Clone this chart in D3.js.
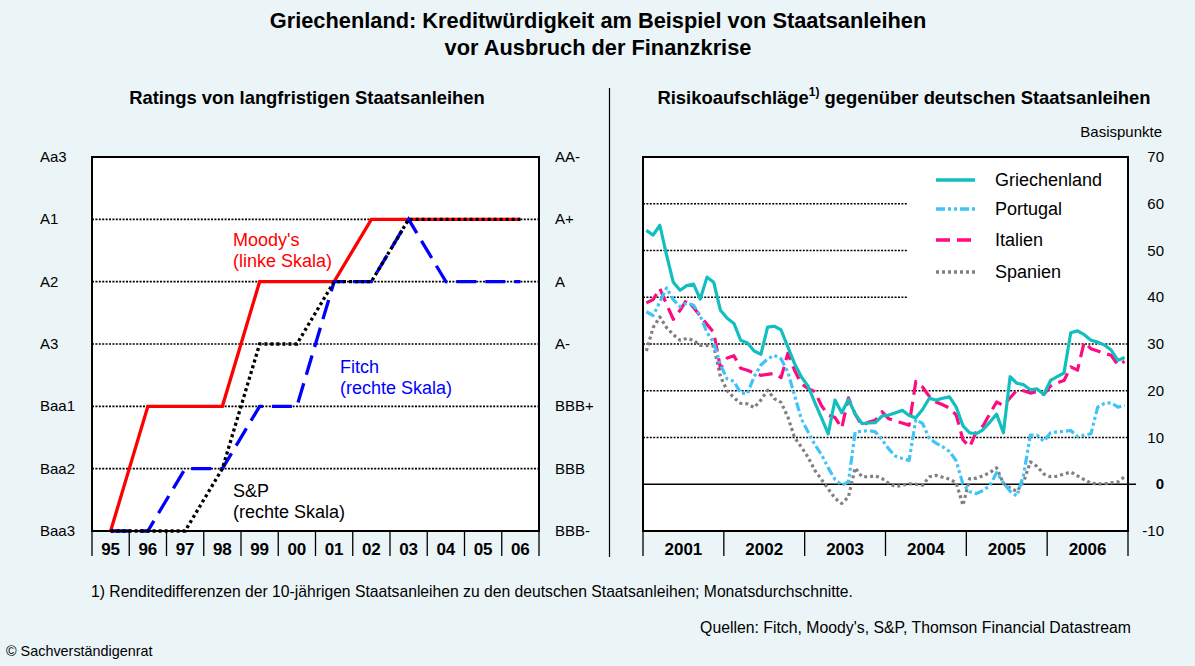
<!DOCTYPE html>
<html><head><meta charset="utf-8">
<script src="https://cdn.jsdelivr.net/npm/d3@7"></script>
<style>
body{margin:0;background:#ebf4f7;}
svg{display:block;font-family:"Liberation Sans",Arial,sans-serif;}
</style>
</head><body>
<svg id="c" width="1195" height="666"></svg>
<script>
// ---------- DATA ----------
const titleLines = ["Griechenland: Kreditwürdigkeit am Beispiel von Staatsanleihen", "vor Ausbruch der Finanzkrise"];
const leftTitle = "Ratings von langfristigen Staatsanleihen";
const years = ["95","96","97","98","99","00","01","02","03","04","05","06"];
const leftLabels = ["Baa3","Baa2","Baa1","A3","A2","A1","Aa3"];
const rightLabels = ["BBB-","BBB","BBB+","A-","A","A+","AA-"];
const moodys = ["Baa3","Baa1","Baa1","Baa1","A2","A2","A2","A1","A1","A1","A1","A1"];
const fitch = ["BBB-","BBB-","BBB","BBB","BBB+","BBB+","A","A","A+","A","A","A"];
const sp = ["BBB-","BBB-","BBB-","BBB","A-","A-","A","A","A+","A+","A+","A+"];

const spreadYears = ["2001","2002","2003","2004","2005","2006"];
const spreadTicks = [70,60,50,40,30,20,10,0,-10];
const seriesNames = ["Griechenland","Portugal","Italien","Spanien"];
const greece = [54.3,53.3,55.4,49.0,43.2,41.5,42.5,42.8,39.6,44.3,43.2,37.2,
 35.5,34.4,30.8,30.2,28.5,27.8,33.6,33.8,33.0,29.4,25.8,23.0,
 21.0,17.5,14.2,10.8,18.0,15.3,18.2,15.0,13.0,13.1,13.2,14.6,
 14.8,15.3,15.8,14.7,14.2,16.0,18.4,18.0,18.4,18.7,16.5,12.5,
 11.0,10.8,11.7,13.3,15.0,11.0,23.0,21.6,21.3,20.2,20.4,19.2,
 22.2,23.0,23.8,32.4,32.8,32.0,30.8,30.4,29.8,28.7,26.5,27.1];
const portugal = [36.9,36.1,39.0,42.0,39.5,38.0,38.8,38.3,36.0,32.5,30.3,25.5,
 22.5,22.0,19.5,19.4,23.0,25.5,26.8,27.6,26.8,24.0,19.0,14.0,
 11.2,8.5,6.3,3.5,1.0,-0.2,0.5,11.2,11.3,11.5,11.2,9.5,
 7.5,6.0,5.5,5.1,13.8,13.0,9.8,8.8,8.0,7.0,5.0,0.0,
 -1.6,-2.0,-1.3,-0.3,2.5,0.3,-1.5,-2.5,2.0,10.5,10.5,9.2,
 11.0,11.2,11.3,11.5,10.2,10.5,10.8,16.5,17.3,17.4,16.5,16.9];
const italy = [38.8,39.5,41.9,38.5,35.3,37.2,39.5,37.8,36.0,34.2,32.5,24.8,
 27.0,27.5,24.8,24.4,23.8,23.3,23.5,23.7,22.8,28.0,24.4,21.5,
 20.5,19.8,16.8,14.8,14.3,12.0,18.5,15.0,12.6,13.3,13.7,15.5,
 14.0,13.5,13.1,12.6,22.0,20.8,18.8,17.6,17.0,16.3,14.8,9.5,
 8.0,11.3,12.5,15.1,17.6,16.8,18.5,20.1,20.0,19.5,19.8,19.2,
 21.0,21.7,22.2,25.1,24.4,30.4,29.0,28.5,28.0,27.6,25.5,26.3];
const spain = [28.5,33.5,35.8,33.5,32.0,30.8,31.2,30.8,29.7,29.7,29.5,23.0,
 20.0,18.5,17.3,17.2,16.4,18.0,20.1,18.3,17.5,14.4,10.0,8.0,
 5.8,3.0,1.0,-1.0,-3.0,-4.1,-2.7,3.5,1.6,1.6,1.8,1.2,
 0.2,-0.5,-0.2,0.1,0.0,-0.2,1.6,1.9,1.5,1.1,0.3,-4.5,
 1.2,1.3,1.8,2.5,3.5,0.2,-0.8,-1.5,0.5,4.8,3.8,2.2,
 1.6,1.7,2.2,2.6,1.8,1.0,0.2,0.1,0.1,0.3,0.5,1.6];

const footnote = "1) Renditedifferenzen der 10-jährigen Staatsanleihen zu den deutschen Staatsanleihen; Monatsdurchschnitte.";
const sources = "Quellen: Fitch, Moody's, S&P, Thomson Financial Datastream";
const copyright = "© Sachverständigenrat";

// ---------- DRAW ----------
const svg = d3.select("#c");
const grid = "2,1.4";

svg.append("text").attr("x",598).attr("y",28).attr("text-anchor","middle")
  .attr("font-size",21.8).attr("font-weight","bold").text(titleLines[0]);
svg.append("text").attr("x",598).attr("y",55).attr("text-anchor","middle")
  .attr("font-size",21.8).attr("font-weight","bold").text(titleLines[1]);

// divider
svg.append("line").attr("x1",609.5).attr("x2",609.5).attr("y1",88).attr("y2",557)
  .attr("stroke","#000").attr("stroke-width",1.2);

// ===== LEFT PANEL =====
const L = {x0:92, x1:539, y0:157, y1:531};
const xL = d3.scaleBand().domain(years).range([L.x0, L.x1]);
const yL = d3.scalePoint().domain(leftLabels).range([L.y1, L.y0]);
const yLR = d3.scalePoint().domain(rightLabels).range([L.y1, L.y0]);

svg.append("text").attr("x",307).attr("y",104).attr("text-anchor","middle")
  .attr("font-size",18.4).attr("font-weight","bold").text(leftTitle);

svg.append("rect").attr("x",L.x0).attr("y",L.y0).attr("width",L.x1-L.x0).attr("height",L.y1-L.y0).attr("fill","#fff");
svg.append("g").selectAll("line").data(leftLabels.slice(1,-1)).join("line")
  .attr("x1",L.x0).attr("x2",L.x1).attr("y1",d=>yL(d)).attr("y2",d=>yL(d))
  .attr("stroke","#000").attr("stroke-width",1.6).attr("stroke-dasharray",grid);

const cx = d => xL(d) + xL.bandwidth()/2;
const lineL = (arr, sc) => d3.line().x((d,i)=>cx(years[i])).y(d=>sc(d))(arr);
svg.append("path").attr("d",lineL(moodys,yL)).attr("fill","none").attr("stroke","#ff0000").attr("stroke-width",3.3);
svg.append("path").attr("d",lineL(fitch,yLR)).attr("fill","none").attr("stroke","#0000ff").attr("stroke-width",3.3).attr("stroke-dasharray","20,9");
svg.append("path").attr("d",lineL(sp,yLR)).attr("fill","none").attr("stroke","#000").attr("stroke-width",3.3).attr("stroke-dasharray","3,3");

svg.append("rect").attr("x",L.x0).attr("y",L.y0).attr("width",L.x1-L.x0).attr("height",L.y1-L.y0)
  .attr("fill","none").attr("stroke","#000").attr("stroke-width",2);

svg.append("g").selectAll("text").data(leftLabels).join("text")
  .attr("x",40).attr("y",d=>yL(d)+5).attr("font-size",15).text(d=>d);
svg.append("g").selectAll("text").data(rightLabels).join("text")
  .attr("x",555).attr("y",d=>yLR(d)+5).attr("font-size",15).text(d=>d);

// year separators + labels
svg.append("g").selectAll("line").data(years.concat(["end"])).join("line")
  .attr("x1",(d,i)=>i<years.length?xL(d):L.x1).attr("x2",(d,i)=>i<years.length?xL(d):L.x1)
  .attr("y1",L.y1).attr("y2",556).attr("stroke","#000").attr("stroke-width",1.3);
svg.append("g").selectAll("text").data(years).join("text")
  .attr("x",d=>cx(d)).attr("y",555).attr("text-anchor","middle")
  .attr("font-size",17).attr("font-weight","bold").text(d=>d);

// annotations
const ann = (x,y,lines,col) => lines.forEach((t,k)=>svg.append("text").attr("x",x).attr("y",y+k*21).attr("font-size",18).attr("fill",col).text(t));
ann(233,246,["Moody's","(linke Skala)"],"#ff0000");
ann(340,373,["Fitch","(rechte Skala)"],"#0000ff");
ann(233,497,["S&P","(rechte Skala)"],"#000");

// ===== RIGHT PANEL =====
const R = {x0:643, x1:1128, y0:157, y1:531};
const xR = d3.scaleLinear().domain([0,72]).range([R.x0,R.x1]);
const xRY = d3.scaleBand().domain(spreadYears).range([R.x0,R.x1]);
const yR = d3.scaleLinear().domain([-10,70]).range([R.y1,R.y0]);

const rt = svg.append("text").attr("x",904).attr("y",104).attr("text-anchor","middle")
  .attr("font-size",18.4).attr("font-weight","bold");
rt.append("tspan").text("Risikoaufschläge");
rt.append("tspan").attr("font-size",12).attr("dy",-8).text("1)");
rt.append("tspan").attr("dy",8).text(" gegenüber deutschen Staatsanleihen");

svg.append("text").attr("x",1162).attr("y",137).attr("text-anchor","end").attr("font-size",15).text("Basispunkte");

svg.append("rect").attr("x",R.x0).attr("y",R.y0).attr("width",R.x1-R.x0).attr("height",R.y1-R.y0).attr("fill","#fff");
svg.append("g").selectAll("line").data(spreadTicks.filter(v=>v>0&&v<70)).join("line")
  .attr("x1",R.x0).attr("x2",d=>d>=40?907:R.x1).attr("y1",d=>yR(d)).attr("y2",d=>yR(d))
  .attr("stroke","#000").attr("stroke-width",1.6).attr("stroke-dasharray",grid);
svg.append("line").attr("x1",R.x0).attr("x2",1136).attr("y1",yR(0)).attr("y2",yR(0))
  .attr("stroke","#000").attr("stroke-width",1.5);

const defs = svg.append("defs");
defs.append("clipPath").attr("id","clipR").append("rect").attr("x",R.x0).attr("y",R.y0).attr("width",R.x1-R.x0).attr("height",R.y1-R.y0);

const styles = [
  {data:greece, col:"#12bfbf", dash:null},
  {data:portugal, col:"#40c4f8", dash:"9,3,3,3,3,3"},
  {data:italy, col:"#ff0a80", dash:"14,7"},
  {data:spain, col:"#808080", dash:"3,3"}
];
const lineR = d3.line().x((d,i)=>xR(i+0.5)).y(d=>yR(d));
const gR = svg.append("g").attr("clip-path","url(#clipR)");
[3,2,1,0].forEach(k=>{
  const s = styles[k];
  gR.append("path").attr("d",lineR(s.data)).attr("fill","none").attr("stroke",s.col)
    .attr("stroke-width",3.2).attr("stroke-dasharray",s.dash).attr("stroke-linejoin","round");
});

// legend
const legY = [180,209,240,272];
seriesNames.forEach((n,k)=>{
  const s = styles[k];
  svg.append("line").attr("x1",936).attr("x2",975).attr("y1",legY[k]).attr("y2",legY[k])
    .attr("stroke",s.col).attr("stroke-width",3.5).attr("stroke-dasharray",s.dash);
  svg.append("text").attr("x",995).attr("y",legY[k]+6).attr("font-size",18).text(n);
});

svg.append("rect").attr("x",R.x0).attr("y",R.y0).attr("width",R.x1-R.x0).attr("height",R.y1-R.y0)
  .attr("fill","none").attr("stroke","#000").attr("stroke-width",2);

svg.append("g").selectAll("text").data(spreadTicks).join("text")
  .attr("x",1164).attr("y",d=>yR(d)+5).attr("text-anchor","end").attr("font-size",15)
  .attr("font-weight",d=>d===0?"bold":"normal").text(d=>d);

svg.append("g").selectAll("line").data(spreadYears.concat(["end"])).join("line")
  .attr("x1",(d,i)=>i<spreadYears.length?xRY(d):R.x1).attr("x2",(d,i)=>i<spreadYears.length?xRY(d):R.x1)
  .attr("y1",R.y1).attr("y2",556).attr("stroke","#000").attr("stroke-width",1.3);
svg.append("g").selectAll("text").data(spreadYears).join("text")
  .attr("x",d=>xRY(d)+xRY.bandwidth()/2).attr("y",555).attr("text-anchor","middle")
  .attr("font-size",17).attr("font-weight","bold").text(d=>d);

// footer
svg.append("text").attr("x",91).attr("y",597).attr("font-size",15.7).text(footnote);
svg.append("text").attr("x",1131).attr("y",633).attr("text-anchor","end").attr("font-size",15.8).text(sources);
svg.append("text").attr("x",6).attr("y",656).attr("font-size",14.4).text(copyright);
</script>
</body></html>
